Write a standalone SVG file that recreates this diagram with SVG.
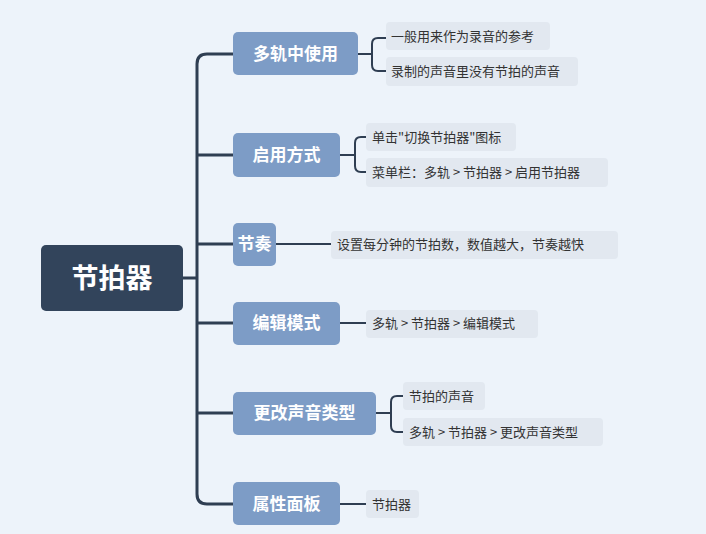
<svg xmlns="http://www.w3.org/2000/svg" width="706" height="534" viewBox="0 0 706 534">
<style>
.bg{fill:#edf3fa}
.root{fill:#32445b}
.br{fill:#7d9cc6}
.lf{fill:#e2e8f0}
.c{fill:none;stroke:#2f3e52;stroke-width:3;stroke-linecap:round}
.c2{fill:none;stroke:#2f3e52;stroke-width:2}
text{font-family:"Noto Sans CJK SC","Noto Sans",sans-serif}
.rt{fill:#fff;font-size:27px;font-weight:bold}
.bt{fill:#fff;font-size:17px;font-weight:bold}
.lt{fill:#333;font-size:13px}
</style>
<rect class="bg" width="706" height="534"/>
<g id="connectors">
<path class="c" d="M183 278H197M233 54H207Q197 54 197 64V494Q197 504 207 504H233M197 155H233M197 244H233M197 323H233M197 413H233"/>
<path class="c2" d="M358 54H372M386 38H378Q372 38 372 44V65Q372 71 378 71H386"/>
<path class="c2" d="M340 155H355M366 137H361Q355 137 355 143V166Q355 172 361 172H366"/>
<path class="c2" d="M276 244H331M340 323H366M340 504H366"/>
<path class="c2" d="M376 413H391M403 396H397Q391 396 391 402V426Q391 432 397 432H403"/>
</g>
<g id="root"><rect class="root" x="41" y="245" width="142" height="66" rx="5"/><text class="rt" x="112" y="288" text-anchor="middle">节拍器</text></g>
<g id="b1"><rect class="br" x="233" y="32" width="125" height="43" rx="5"/><text class="bt" x="295.5" y="60" text-anchor="middle">多轨中使用</text></g>
<g id="b2"><rect class="br" x="233" y="133" width="107" height="44" rx="5"/><text class="bt" x="286.5" y="161" text-anchor="middle">启用方式</text></g>
<g id="b3"><rect class="br" x="233" y="223" width="43" height="43" rx="5"/><text class="bt" x="254.5" y="250" text-anchor="middle">节奏</text></g>
<g id="b4"><rect class="br" x="233" y="302" width="107" height="43" rx="5"/><text class="bt" x="286.5" y="329" text-anchor="middle">编辑模式</text></g>
<g id="b5"><rect class="br" x="233" y="392" width="143" height="43" rx="5"/><text class="bt" x="304.5" y="419" text-anchor="middle">更改声音类型</text></g>
<g id="b6"><rect class="br" x="233" y="482" width="107" height="43" rx="5"/><text class="bt" x="286.5" y="510" text-anchor="middle">属性面板</text></g>
<g id="l1a"><rect class="lf" x="386" y="22" width="164" height="28" rx="4"/><text class="lt" x="391" y="41">一般用来作为录音的参考</text></g>
<g id="l1b"><rect class="lf" x="386" y="57" width="192" height="29" rx="4"/><text class="lt" x="391" y="76">录制的声音里没有节拍的声音</text></g>
<g id="l2a"><rect class="lf" x="366" y="123" width="150" height="28" rx="4"/><text class="lt" x="372" y="142">单击"切换节拍器"图标</text></g>
<g id="l2b"><rect class="lf" x="366" y="158" width="242" height="29" rx="4"/><text class="lt" x="372" y="177">菜单栏：多轨 &gt; 节拍器 &gt; 启用节拍器</text></g>
<g id="l3"><rect class="lf" x="331" y="231" width="287" height="28" rx="4"/><text class="lt" x="337" y="249">设置每分钟的节拍数，数值越大，节奏越快</text></g>
<g id="l4"><rect class="lf" x="366" y="310" width="172" height="28" rx="4"/><text class="lt" x="372" y="328">多轨 &gt; 节拍器 &gt; 编辑模式</text></g>
<g id="l5a"><rect class="lf" x="403" y="382" width="82" height="28" rx="4"/><text class="lt" x="409" y="401">节拍的声音</text></g>
<g id="l5b"><rect class="lf" x="403" y="418" width="200" height="28" rx="4"/><text class="lt" x="409" y="437">多轨 &gt; 节拍器 &gt; 更改声音类型</text></g>
<g id="l6"><rect class="lf" x="366" y="490" width="53" height="28" rx="4"/><text class="lt" x="372" y="509">节拍器</text></g>
</svg>
